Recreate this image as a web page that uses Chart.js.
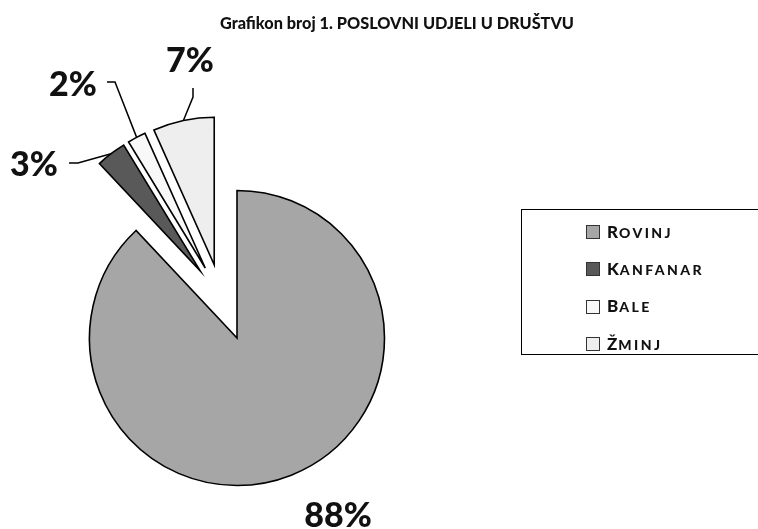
<!DOCTYPE html>
<html>
<head>
<meta charset="utf-8">
<script src="https://cdn.jsdelivr.net/npm/chart.js@4.4.1/dist/chart.umd.min.js"></script>
<style>
  html, body { margin: 0; padding: 0; background: #fff; }
  #wrap { position: relative; width: 758px; height: 529px; overflow: hidden; background: #fff; }
  #c { position: absolute; left: 0; top: 0; }
  #title { position: absolute; left: 0; width: 794px; top: 13px; text-align: center;
           font-family: Lato, "Open Sans", sans-serif; font-weight: 900; font-size: 16.3px; color: #111; }
  #legend { position: absolute; left: 521px; top: 209px; width: 250px; height: 146px;
            border: 1.5px solid #000; box-sizing: border-box; }
  .item { position: absolute; left: 64px; height: 20px; display: flex; align-items: center;
          font-family: Lato, "Open Sans", sans-serif; font-weight: 900; color: #111; }
  .txt { font-size: 14px; text-transform: uppercase; letter-spacing: 2.4px; line-height: 20px; }
  .txt .cap { font-size: 17px; letter-spacing: 1px; }
  .box { width: 12px; height: 12px; border: 1px solid #333; margin-right: 7px; flex: none; }
</style>
</head>
<body>
<div id="wrap">
  <canvas id="c" width="758" height="529"></canvas>
  <div id="title">Grafikon broj 1. POSLOVNI UDJELI U DRUŠTVU</div>
  <div id="legend"></div>
</div>
<script>
// ---- data ----
const categories = ['Rovinj', 'Kanfanar', 'Bale', 'Žminj'];
const shares = [88.0, 3.3, 2.0, 6.7];
const percentLabels = ['88%', '3%', '2%', '7%'];

// ---- styles / layout ----
const sliceColors = ['#a6a6a6', '#595959', '#f8f8f8', '#eeeeee'];
const SLICE_SHIFT = 35;   // each small slice exploded along its own bisector
const GROUP_SHIFT = 42;   // the small-slice group exploded along the group bisector
// label text anchor (center x, baseline y) and leader elbow/end points
const labelLayout = [
  { x: 338, y: 527, leader: null },
  { x: 34, y: 176, leader: [[78, 163], [69, 163]] },
  { x: 73, y: 96, leader: [[115, 82], [107, 82]] },
  { x: 190, y: 72, leader: [[193, 97], [193, 88]] }
];

// legend (HTML, small-caps style)
const legendEl = document.getElementById('legend');
categories.forEach((name, i) => {
  const it = document.createElement('div');
  it.className = 'item';
  it.style.top = (22 - 10 + i * 37.4) + 'px';
  const b = document.createElement('span');
  b.className = 'box';
  b.style.background = sliceColors[i];
  const t = document.createElement('span');
  t.className = 'txt';
  const c0 = document.createElement('span');
  c0.className = 'cap';
  c0.textContent = name.charAt(0);
  t.appendChild(c0);
  t.appendChild(document.createTextNode(name.slice(1)));
  it.appendChild(b); it.appendChild(t);
  legendEl.appendChild(it);
});

const explodePlugin = {
  id: 'explodeSmall',
  afterDatasetsUpdate(chart) {
    const els = chart.getDatasetMeta(0).data;
    const last = els.length - 1;
    const gmid = (els[1].startAngle + els[last].endAngle) / 2;
    for (let i = 1; i <= last; i++) {
      const el = els[i];
      const mid = (el.startAngle + el.endAngle) / 2;
      el.x = el.x + Math.cos(mid) * SLICE_SHIFT + Math.cos(gmid) * GROUP_SHIFT;
      el.y = el.y + Math.sin(mid) * SLICE_SHIFT + Math.sin(gmid) * GROUP_SHIFT;
    }
  }
};

const labelPlugin = {
  id: 'pctLabels',
  afterDatasetsDraw(chart) {
    const ctx = chart.ctx;
    const els = chart.getDatasetMeta(0).data;
    ctx.save();
    ctx.strokeStyle = '#000';
    ctx.lineWidth = 1.5;
    els.forEach((el, i) => {
      const L = labelLayout[i];
      if (L.leader) {
        const mid = (el.startAngle + el.endAngle) / 2;
        const ax = el.x + Math.cos(mid) * el.outerRadius;
        const ay = el.y + Math.sin(mid) * el.outerRadius;
        ctx.beginPath();
        ctx.moveTo(ax, ay);
        L.leader.forEach(p => ctx.lineTo(p[0], p[1]));
        ctx.stroke();
      }
      ctx.fillStyle = '#111';
      ctx.font = '900 34px Lato, "Open Sans", sans-serif';
      ctx.textAlign = 'center';
      ctx.textBaseline = 'alphabetic';
      ctx.fillText(percentLabels[i], L.x, L.y);
    });
    ctx.restore();
  }
};

new Chart(document.getElementById('c'), {
  type: 'pie',
  data: {
    labels: categories,
    datasets: [{
      data: shares,
      backgroundColor: sliceColors,
      borderColor: '#000',
      borderWidth: 1.6,
      borderJoinStyle: 'miter'
    }]
  },
  options: {
    responsive: false,
    animation: false,
    events: [],
    radius: 147.5,
    layout: { padding: { left: 0, right: 284, top: 147, bottom: 0 } },
    plugins: { legend: { display: false }, tooltip: { enabled: false }, title: { display: false } }
  },
  plugins: [explodePlugin, labelPlugin]
});
</script>
</body>
</html>
